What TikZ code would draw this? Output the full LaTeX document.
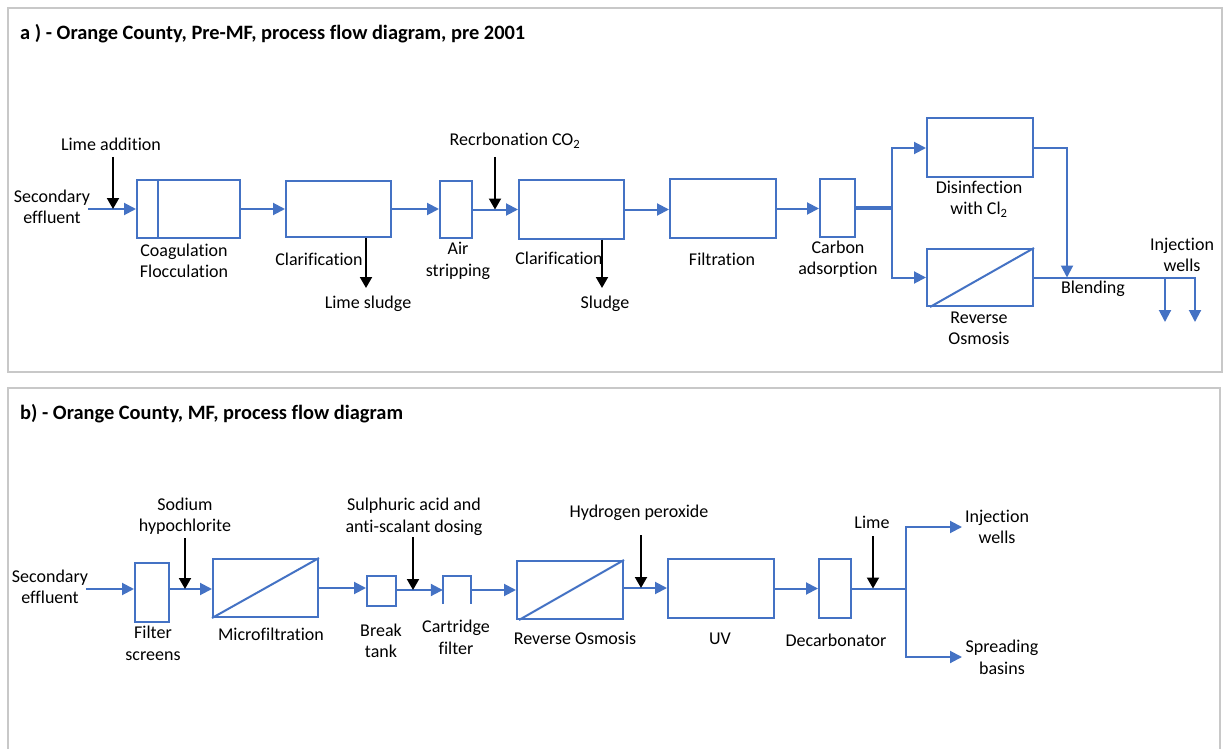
\documentclass[tikz,border=0pt]{standalone}
\usepackage{fontspec}
\setmainfont{Carlito}[Ligatures=NoCommon]
\usetikzlibrary{arrows.meta}
\definecolor{flowblue}{HTML}{4472C4}
\definecolor{framegray}{HTML}{C8C8C8}

\begin{document}
\begin{tikzpicture}[x=1pt,y=-1pt,
  unit/.style={draw=flowblue, line width=2pt, inner sep=0pt, fill=white},
  pipe/.style={draw=flowblue, line width=2pt},
  flow/.style={pipe, -{Triangle[length=12pt,width=12pt]}},
  dose/.style={draw=black, line width=2pt, -{Triangle[length=11pt,width=12pt]}},
  lbl/.style={font=\fontsize{18}{21.5}\selectfont, align=center, inner sep=0pt},
  ttl/.style={font=\fontsize{20.4}{24}\selectfont\bfseries, anchor=west, inner sep=0pt},
  panel/.style={draw=framegray, line width=2pt}]

\useasboundingbox (0,0) rectangle (1224,749);
\clip (0,0) rectangle (1224,749);

% ---------- frames and titles ----------
\draw[panel] (8,8) rectangle (1222,372);
\draw[panel] (8,388) rectangle (1220,780);
\node[ttl] (titleA) at (20,34) {a ) - Orange County, Pre-MF, process flow diagram, pre 2001};
\node[ttl] (titleB) at (20,414) {b) - Orange County, MF, process flow diagram};

% ---------- (a) pre-MF train ----------
\node[unit, minimum width=103pt, minimum height=58pt] (coag) at (188.5,209) {};
\draw[pipe] ([xshift=22pt]coag.north west) -- ([xshift=22pt]coag.south west);
\node[unit, minimum width=105pt, minimum height=56pt] (clarA) at (338.5,209) {};
\node[unit, minimum width=32pt, minimum height=57pt] (air) at (456,209.5) {};
\node[unit, minimum width=105pt, minimum height=58pt] (clarB) at (571.5,209.5) {};
\node[unit, minimum width=106pt, minimum height=59pt] (filt) at (723,208.5) {};
\node[unit, minimum width=35pt, minimum height=58pt] (carb) at (837.5,208) {};
\node[unit, minimum width=106pt, minimum height=59pt] (dis) at (980,148) {};
\node[unit, minimum width=106pt, minimum height=57pt] (roA) at (980,277.5) {};
\draw[pipe] ([xshift=4pt]roA.south west) -- (roA.north east);

\coordinate (inA) at (88,209);
\coordinate (limeA) at (113,157);
\coordinate (sludgeA) at (366,288);
\coordinate (co2) at (495,157);
\coordinate (sludgeB) at (602,288);
\coordinate (split) at (892,208);
\coordinate (blend) at (1067,277.5);
\coordinate (wellA) at (1165,322);
\coordinate (wellB) at (1195,322);

\draw[flow] (inA) -- (inA -| coag.west);
\draw[dose] (limeA) -- (limeA |- inA);
\draw[flow] (coag.east) -- (coag.east -| clarA.west);
\draw[dose] (sludgeA |- clarA.south) -- (sludgeA);
\draw[flow] (clarA.east) -- (clarA.east -| air.west);
\draw[flow] (air.east) -- (air.east -| clarB.west);
\draw[dose] (co2) -- (co2 |- air.east);
\draw[dose] (sludgeB |- clarB.south) -- (sludgeB);
\draw[flow] (clarB.east) -- (clarB.east -| filt.west);
\draw[flow] (filt.east) -- (filt.east -| carb.west);
\draw[pipe, line width=3.5pt] (carb.east) -- (split);
\draw[flow] (split) |- (dis.west);
\draw[flow] (split) |- (roA.west);
\draw[flow] (dis.east) -| (blend);
\draw[flow] (roA.east) -| (wellB);
\draw[flow] (wellA |- roA.east) -- (wellA);

\node[lbl] (tLimeAdd) at (111,144) {Lime addition};
\node[lbl] (tSecA) at (52,207) {Secondary\\effluent};
\node[lbl] (tCoag) at (184,261) {Coagulation\\Flocculation};
\node[lbl] (tClarA) at (319,259) {Clarification};
\node[lbl] (tLimeSl) at (368,304) {Lime sludge};
\node[lbl] (tAir) at (458,261) {Air\\stripping};
\node[lbl] (tCO2) at (515,141) {Recrbonation CO\textsubscript{2}};
\node[lbl] (tClarB) at (559,258) {Clarification};
\node[lbl] (tSludge) at (605,304) {Sludge};
\node[lbl] (tFilt) at (722,259) {Filtration};
\node[lbl] (tCarb) at (838,259) {Carbon\\adsorption};
\node[lbl] (tDis) at (979,199) {Disinfection\\with Cl\textsubscript{2}};
\node[lbl] (tRoA) at (979,328.5) {Reverse\\Osmosis};
\node[lbl] (tBlend) at (1093,289) {Blending};
\node[lbl] (tWellsA) at (1182,255) {Injection\\wells};

% ---------- (b) MF train ----------
\node[unit, minimum width=34pt, minimum height=59pt] (fs) at (152,592.5) {};
\node[unit, minimum width=105pt, minimum height=58pt] (mf) at (265.5,588) {};
\draw[pipe] (mf.south west) -- (mf.north east);
\node[unit, minimum width=29pt, minimum height=30pt] (bt) at (381.5,591) {};
\node[inner sep=0pt, minimum width=28pt, minimum height=28pt] (cf) at (457,590) {};
\draw[pipe] (cf.south west) -- (cf.north west) -- (cf.north east) -- (cf.south east);
\node[unit, minimum width=106pt, minimum height=58pt] (roB) at (570,590) {};
\draw[pipe] ([xshift=3pt]roB.south west) -- (roB.north east);
\node[unit, minimum width=106pt, minimum height=59pt] (uv) at (721,588.5) {};
\node[unit, minimum width=32pt, minimum height=59pt] (dc) at (835,588.5) {};

\coordinate (inB) at (86,589);
\coordinate (naocl) at (185,538);
\coordinate (acid) at (413,537);
\coordinate (hperox) at (641,535);
\coordinate (limeB) at (873,536);
\coordinate (fork) at (906,588.5);
\coordinate (inj) at (962,527);
\coordinate (spread) at (962,657);

\draw[flow] (inB) -- (inB -| fs.west);
\draw[flow] (fs.east |- inB) -- (inB -| mf.west);
\draw[dose] (naocl) -- (naocl |- inB);
\draw[flow] (mf.east) -- (mf.east -| bt.west);
\draw[flow] (bt.east |- cf) -- (cf.west);
\draw[dose] (acid) -- (acid |- cf);
\draw[flow] (cf.east |- roB) -- (roB.west);
\draw[flow] (roB.east |- mf) -- (mf -| uv.west);
\draw[dose] (hperox) -- (hperox |- mf);
\draw[flow] (uv.east) -- (uv.east -| dc.west);
\draw[pipe] (dc.east) -- (fork);
\draw[dose] (limeB) -- (limeB |- fork);
\draw[flow] (fork) |- (inj);
\draw[flow] (fork) |- (spread);

\node[lbl] (tSecB) at (50,587) {Secondary\\effluent};
\node[lbl] (tNaOCl) at (185,516) {Sodium\\hypochlorite};
\node[lbl] (tFs) at (153,643.5) {Filter\\screens};
\node[lbl] (tMf) at (271,634) {Microfiltration};
\node[lbl] (tBt) at (381,641) {Break\\tank};
\node[lbl] (tAcid) at (414,517) {Sulphuric acid and\\anti-scalant dosing};
\node[lbl] (tCf) at (456,637.5) {Cartridge\\filter};
\node[lbl] (tRoB) at (575,638) {Reverse Osmosis};
\node[lbl] (tH2O2) at (639,513) {Hydrogen peroxide};
\node[lbl] (tUv) at (720,639) {UV};
\node[lbl] (tDc) at (836,640) {Decarbonator};
\node[lbl] (tLimeB) at (872,522) {Lime};
\node[lbl] (tInj) at (997,527) {Injection\\wells};
\node[lbl] (tSpr) at (1002,657.5) {Spreading\\basins};

\end{tikzpicture}
\end{document}
